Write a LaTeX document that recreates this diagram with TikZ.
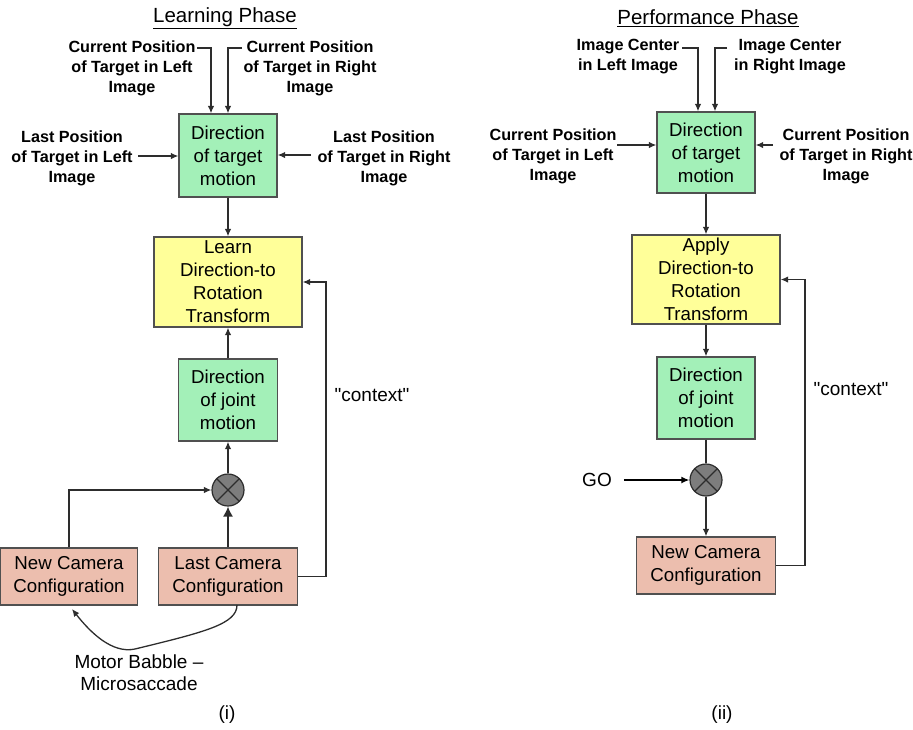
\documentclass[tikz,border=0pt]{standalone}
\usepackage{fontspec}
\setmainfont{Liberation Sans}
\usetikzlibrary{arrows.meta,calc}
\definecolor{boxgreen}{RGB}{163,240,184}
\definecolor{boxyellow}{RGB}{255,255,153}
\definecolor{boxsalmon}{RGB}{236,190,174}
\definecolor{boxline}{RGB}{80,80,80}
\definecolor{wire}{RGB}{45,45,45}
\definecolor{multgray}{RGB}{125,125,125}
\begin{document}
\begin{tikzpicture}[x=1pt,y=-1pt,
  box/.style={draw=boxline, line width=1.3pt, align=center, inner sep=0pt,
    font=\fontsize{18.7}{23}\selectfont},
  gbox/.style={box, fill=boxgreen},
  ybox/.style={box, fill=boxyellow},
  sbox/.style={box, fill=boxsalmon},
  lbl/.style={align=center, inner sep=0pt, font=\bfseries\fontsize{16.2}{20}\selectfont},
  txt/.style={align=center, inner sep=0pt, font=\fontsize{19}{22}\selectfont},
  ttl/.style={inner sep=0pt, font=\fontsize{20.5}{24}\selectfont},
  arr/.style={-{Latex[length=7.5pt,width=6.5pt]}, line width=1.3pt, draw=wire},
  bigarr/.style={-{Latex[length=10pt,width=10pt]}, line width=1.3pt, draw=wire},
  ln/.style={line width=1.3pt, draw=wire},
  mult/.style={circle, draw=wire, line width=1.2pt, fill=multgray, minimum size=32pt, inner sep=0pt}
]
\useasboundingbox (0,0) rectangle (913,729);

% ---------------- Left panel: Learning Phase ----------------
\node[ttl] (tL) at (225,18) {\underline{Learning Phase}};

\node[gbox, minimum width=98pt, minimum height=83pt] (tgtL) at (228,155.5)
  {Direction\\of target\\motion};
\node[ybox, minimum width=148pt, minimum height=90pt] (learn) at (228,282)
  {Learn\\Direction-to\\Rotation\\Transform};
\node[gbox, minimum width=99pt, minimum height=82pt] (jointL) at (228,400)
  {Direction\\of joint\\motion};
\node[mult] (cL) at (228,490) {};
\draw[wire, line width=1.1pt] (cL.45) -- (cL.225) (cL.135) -- (cL.315);
\node[sbox, minimum width=137pt, minimum height=57pt] (newL) at (69,576.5)
  {New Camera\\Configuration};
\node[sbox, minimum width=139pt, minimum height=57pt] (lastL) at (228,576.5)
  {Last Camera\\Configuration};

\node[lbl] (cpL) at (132,68) {Current Position\\of Target in Left\\Image};
\node[lbl] (cpR) at (310,68) {Current Position\\of Target in Right\\Image};
\node[lbl] (lpL) at (72,158) {Last Position\\of Target in Left\\Image};
\node[lbl] (lpR) at (384,158) {Last Position\\of Target in Right\\Image};

\coordinate (cpLe) at (197,48);
\coordinate (cpRe) at (242,48);
\coordinate (lpLe) at (138,156);
\coordinate (lpRe) at (311,155);
\draw[arr] (cpLe) -| ($(tgtL.north)+(-17,0)$);
\draw[arr] (cpRe) -| (tgtL.north);
\draw[arr] (lpLe) -- (tgtL.west |- lpLe);
\draw[arr] (lpRe) -- (tgtL.east |- lpRe);

\draw[arr] (tgtL.south) -- (learn.north);
\draw[arr] (jointL.north) -- (learn.south);
\draw[arr] (cL.north) -- (jointL.south);
\draw[bigarr] (lastL.north) -- (cL.south);
\draw[arr] (newL.north) |- (cL.west);
\coordinate (ctxL) at (326,576.5);
\draw[arr] (lastL.east) -- (ctxL) |- (learn.east);
\node[txt] (ctxtL) at (372,395) {\textquotedbl context\textquotedbl};

\coordinate (mbS) at (237,605);
\coordinate (mbE) at (72,609);
\draw[arr] (mbS) .. controls (237,624) and (205,632) .. (135,649)
  .. controls (112,654) and (90,632) .. (mbE);
\node[txt] (mb) at (139,673) {Motor Babble –\\Microsaccade};
\node[txt] (capi) at (227,715) {(i)};

% ---------------- Right panel: Performance Phase ----------------
\node[ttl] (tR) at (708,18) {\underline{Performance Phase}};

\node[gbox, minimum width=98pt, minimum height=81pt] (tgtR) at (706,152.5)
  {Direction\\of target\\motion};
\node[ybox, minimum width=148pt, minimum height=89pt] (apply) at (706,279.5)
  {Apply\\Direction-to\\Rotation\\Transform};
\node[gbox, minimum width=98pt, minimum height=82pt] (jointR) at (706,398)
  {Direction\\of joint\\motion};
\node[mult] (cR) at (706,480) {};
\draw[wire, line width=1.1pt] (cR.45) -- (cR.225) (cR.135) -- (cR.315);
\node[sbox, minimum width=139pt, minimum height=57pt] (newR) at (706,565.5)
  {New Camera\\Configuration};

\node[lbl] (icL) at (628,57) {Image Center\\in Left Image};
\node[lbl] (icR) at (790,57) {Image Center\\in Right Image};
\node[lbl] (cp2L) at (553,156) {Current Position\\of Target in Left\\Image};
\node[lbl] (cp2R) at (846,156) {Current Position\\of Target in Right\\Image};

\coordinate (icLe) at (682,48);
\coordinate (icRe) at (727,48);
\coordinate (cp2Le) at (617,145);
\coordinate (cp2Re) at (773,145);
\draw[arr] (icLe) -| ($(tgtR.north)+(-8,0)$);
\draw[arr] (icRe) -| ($(tgtR.north)+(9,0)$);
\draw[arr] (cp2Le) -- (tgtR.west |- cp2Le);
\draw[arr] (cp2Re) -- (tgtR.east |- cp2Re);

\draw[arr] (tgtR.south) -- (apply.north);
\draw[arr] (apply.south) -- (jointR.north);
\draw[ln] (jointR.south) -- (cR.north);
\draw[arr] (cR.south) -- (newR.north);
\node[txt] (go) at (597,480) {GO};
\draw[-{Latex[length=8pt,width=7pt]}, line width=2.6pt, draw=black] ($(go.east)+(12,0)$) -- (cR.west);
\coordinate (ctxR) at (805,565.5);
\draw[arr] (newR.east) -- (ctxR) |- (apply.east);
\node[txt] (ctxtR) at (851,389) {\textquotedbl context\textquotedbl};
\node[txt] (capii) at (722,715) {(ii)};
\end{tikzpicture}
\end{document}
